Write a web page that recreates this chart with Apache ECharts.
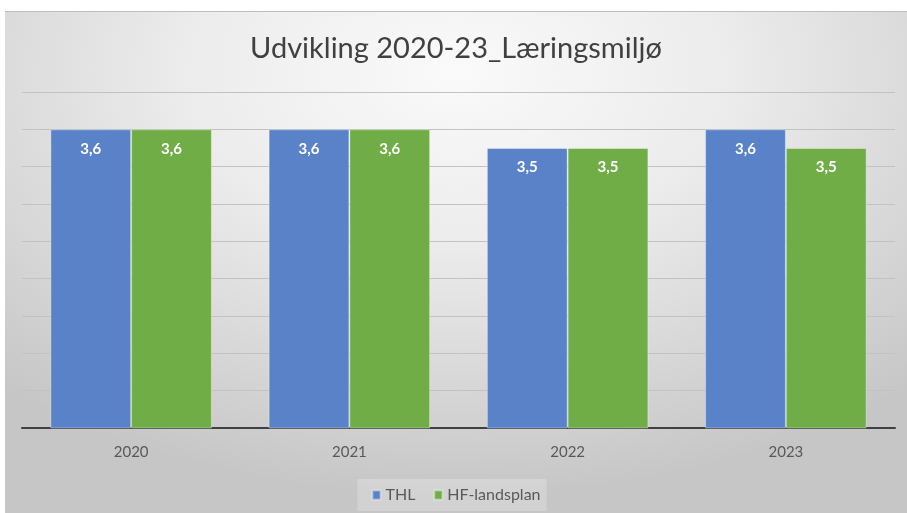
<!DOCTYPE html>
<html>
<head>
<meta charset="utf-8">
<script src="https://cdn.jsdelivr.net/npm/echarts@6/dist/echarts.min.js"></script>
<style>
  html, body { margin: 0; padding: 0; background: #ffffff; width: 907px; height: 513px; overflow: hidden; }
  #chart {
    position: absolute; left: 5px; top: 11px; width: 902px; height: 502px;
    border-top: 1px solid #bdbdbd;
    box-sizing: border-box;
    background: radial-gradient(ellipse 75% 85% at 50% 12%, #fafafa 0%, #ececec 40%, #d6d6d6 75%, #c6c6c6 100%);
  }
</style>
</head>
<body>
<div id="chart"></div>
<script>
const titleText = 'Udvikling 2020-23_Læringsmiljø';
const categories = ['2020', '2021', '2022', '2023'];
const seriesNames = ['THL', 'HF-landsplan'];
const thlValues = [3.6, 3.6, 3.5, 3.6];
const hfValues = [3.6, 3.6, 3.5, 3.5];

const chart = echarts.init(document.getElementById('chart'), null, { renderer: 'canvas' });
const fmt = p => p.value.toFixed(1).replace('.', ',');
const labelStyle = {
  show: true, position: 'insideTop', distance: 12,
  color: '#ffffff', fontWeight: 'bold', fontSize: 15,
  fontFamily: 'Lato, "Open Sans", sans-serif', formatter: fmt
};
chart.setOption({
  backgroundColor: 'transparent',
  animation: false,
  title: {
    text: titleText, left: 'center', top: 17,
    textStyle: { fontFamily: 'Lato, "Open Sans", sans-serif', fontWeight: 'normal', fontSize: 29, color: '#404040' }
  },
  legend: {
    data: seriesNames, bottom: 2, left: 'center',
    itemWidth: 8, itemHeight: 9, itemGap: 18,
    padding: [8, 6, 8, 14],
    backgroundColor: 'rgba(255,255,255,0.22)',
    icon: 'rect',
    textStyle: { fontFamily: 'Lato, "Open Sans", sans-serif', fontSize: 16, color: '#595959' }
  },
  grid: { left: 17, right: 12, top: 80, bottom: 85, containLabel: false },
  xAxis: {
    type: 'category', data: categories,
    axisTick: { show: false },
    axisLine: { lineStyle: { color: '#404040', width: 2 } },
    axisLabel: { color: '#595959', fontSize: 15, margin: 17, fontFamily: 'Lato, "Open Sans", sans-serif' }
  },
  yAxis: {
    type: 'value', min: 2, max: 3.8, interval: 0.2,
    axisLabel: { show: false }, axisLine: { show: false }, axisTick: { show: false },
    splitLine: { lineStyle: { color: '#c2c2c2', width: 1 } }
  },
  series: [
    { name: seriesNames[0], type: 'bar', data: thlValues, barGap: '0%', barCategoryGap: '26%',
      itemStyle: { color: '#5a82c8', borderColor: 'rgba(255,255,255,0.35)', borderWidth: 1 }, label: labelStyle },
    { name: seriesNames[1], type: 'bar', data: hfValues,
      itemStyle: { color: '#70ad47', borderColor: 'rgba(255,255,255,0.35)', borderWidth: 1 }, label: labelStyle }
  ]
});
</script>
</body>
</html>
